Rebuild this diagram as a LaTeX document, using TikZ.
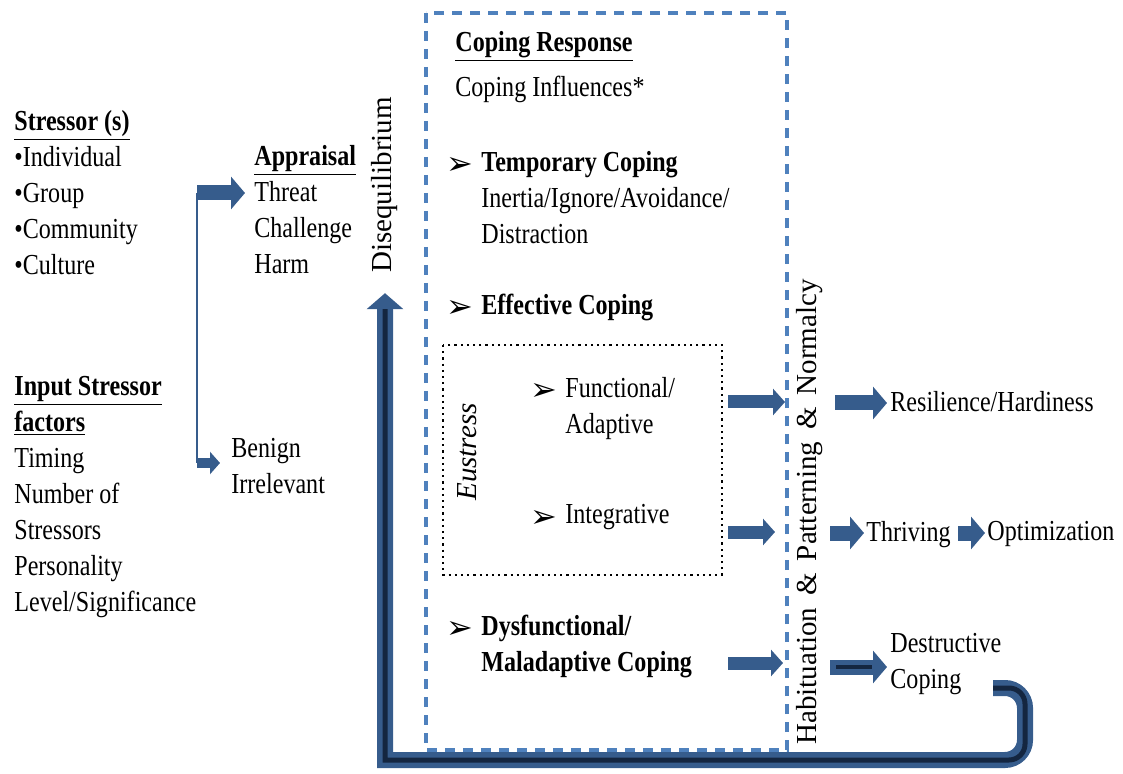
\documentclass[tikz,border=0pt]{standalone}
\usepackage{fontspec}
\setmainfont{Liberation Serif}[FakeStretch=0.83]
\newfontfamily\rotfont{Liberation Serif}
\newfontfamily\dingfont{DejaVu Sans}
\usetikzlibrary{arrows.meta,positioning,calc}
\definecolor{cblue}{RGB}{54,92,140}
\definecolor{cdark}{RGB}{20,38,64}
\definecolor{cdash}{RGB}{79,129,189}
\tikzset{
  txt/.style={anchor=north west,inner sep=0pt,align=left,font=\fontsize{14.5}{18}\selectfont},
  rot/.style={rotate=90,inner sep=0pt,font=\rotfont\fontsize{14.5}{18}\selectfont},
  tick/.style={anchor=west,inner sep=0pt,font=\dingfont\fontsize{16}{16}\selectfont},
  blockarrow/.style={draw=cblue,line width=6.5pt,-{Triangle[length=6pt,width=13pt]}},
  bigarrow/.style={draw=cblue,line width=7.5pt,-{Triangle[length=7pt,width=16pt]}},
}
\begin{document}
\begin{tikzpicture}[x=0.5pt,y=-0.5pt]
\useasboundingbox (0,0) rectangle (1123,774);

% left column
\node[txt] (stressor) at (14,110) {\underline{\textbf{Stressor (s)}}\\ •Individual\\ •Group\\ •Community\\ •Culture};
\node[txt] (inputs) at (14,376) {\underline{\textbf{Input Stressor}}\\ \underline{\textbf{factors}}\\ Timing\\ Number of\\ Stressors\\ Personality\\ Level/Significance};

% appraisal
\node[txt] (appraisal) at (254,145) {\underline{\textbf{Appraisal}}\\ Threat\\ Challenge\\ Harm};
\node[txt] (benign) at (231,438) {Benign\\ Irrelevant};

\coordinate (jtop) at (197,193);
\coordinate (jbot) at (197,463);
\draw[cblue,line width=0.8pt] (jtop) -- (jbot);
\draw[bigarrow,shorten >=4.5pt] (jtop) -- (jtop -| appraisal.west);
\draw[draw=cblue,line width=5pt,-{Triangle[length=5pt,width=11pt]},shorten >=5.5pt] (jbot) -- (jbot -| benign.west);

\node[rot] (diseq) at (385,185) {Disequilibrium};

% coping response box
\draw[cdash,line width=1.6pt,dash pattern=on 5pt off 4pt] (426,13) rectangle (787,750);
\node[txt] (copresp) at (455,31) {\underline{\textbf{Coping Response}}};
\node[txt] (copinf) at (455,76) {Coping Influences*};

\node[tick] (btemp) at (446,166) {➢};
\node[txt] (temp) at (481,151) {\textbf{Temporary Coping}\\ Inertia/Ignore/Avoidance/\\ Distraction};
\node[tick] (beff) at (446,309) {➢};
\node[txt] (eff) at (481,294) {\textbf{Effective Coping}};

\draw[dotted,line width=1.1pt] (443,345) rectangle (722,575);
\node[rot,font=\rotfont\itshape\fontsize{14.5}{18}\selectfont] (eust) at (467,452) {Eustress};
\node[tick] (bfunc) at (530,392) {➢};
\node[txt] (func) at (565,377) {Functional/\\ Adaptive};
\node[tick] (binteg) at (530,519) {➢};
\node[txt] (integ) at (565,504) {Integrative};

\node[tick] (bdys) at (446,630) {➢};
\node[txt] (dys) at (481,615) {\textbf{Dysfunctional/}\\ \textbf{Maladaptive Coping}};

% habituation
\node[rot] (habit) at (810,512) {Habituation \,\&\, Patterning \,\&\, Normalcy};

\coordinate (o1) at (728,402);
\coordinate (o2) at (728,532);
\coordinate (o3) at (728,663);
\draw[blockarrow] (o1) -- (785,402);
\draw[blockarrow] (o2) -- (775,532);
\draw[blockarrow] (o3) -- (783,663);

% outcomes
\node[txt] (resil) at (890,391) {Resilience/Hardiness};
\node[txt] (thriv) at (866,521) {Thriving};
\node[txt] (optim) at (987,521) {Optimization};
\node[txt] (destr) at (890,633) {Destructive\\ Coping};

\draw[bigarrow,shorten >=1.5pt] (835,403) -- (resil.west |- 0,403);
\draw[bigarrow,shorten >=1pt] (830,533) -- (thriv.west |- 0,533);
\draw[bigarrow,shorten >=1pt] ($(thriv.east |- 0,533)+(7,0)$) -- (optim.west |- 0,533);
\draw[bigarrow,shorten >=1.5pt] (830,667) -- (destr.west |- 0,667);
\draw[cdark,line width=2pt] (836,667) -- (872,667);

% feedback loop
\coordinate (lstart) at (993,688);
\coordinate (lend) at ($(diseq.west)+(0,20)$);
\draw[draw=cblue,line width=8pt,-{Triangle[length=8pt,width=18pt]}]
  (lstart) [rounded corners=10pt] -- (1025,688) -- (1025,760) [sharp corners] -- (385,760) -- (lend);
\draw[cdark,line width=2.5pt]
  (lstart) [rounded corners=8pt] -- (1025,688) -- (1025,760) [sharp corners] -- (385,760) -- ($(lend)+(0,16)$);
\end{tikzpicture}
\end{document}
